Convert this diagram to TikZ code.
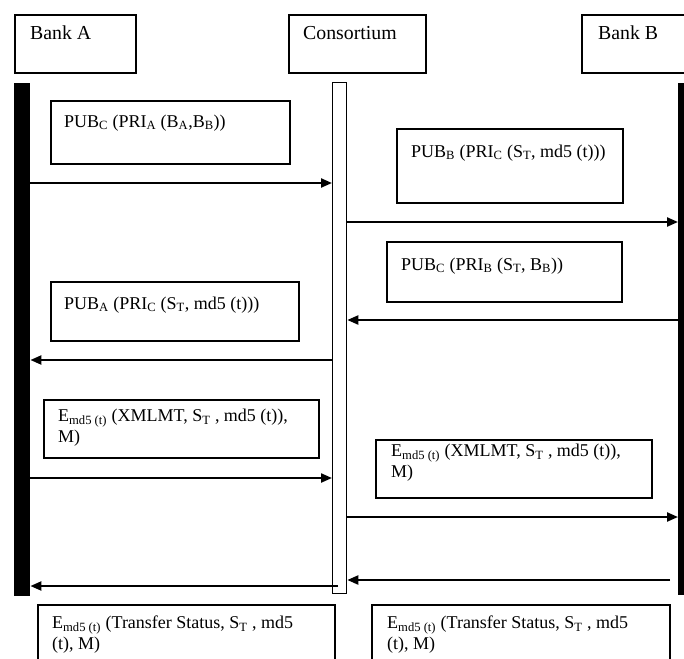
\documentclass[tikz,border=0pt]{standalone}
\usepackage{fontspec}
\setmainfont{Liberation Serif}
\usetikzlibrary{arrows.meta}
\begin{document}
\begin{tikzpicture}[x=1pt,y=-1pt,
  box/.style={draw, line width=1.8pt, rectangle, inner sep=0pt, anchor=north west},
  txt/.style={font=\fontsize{18}{21}\selectfont, inner sep=0pt, anchor=west, align=left},
  head/.style={txt, font=\fontsize{19.8}{22}\selectfont},
  msg/.style={line width=2.2pt, -{Triangle[length=11pt,width=9pt]}}]
\useasboundingbox (0,0) rectangle (684,658);
\clip (0,0) rectangle (684,658);
% headers
\node[box, minimum width=121pt, minimum height=58pt] (hA) at (14,14) {};
\node[box, minimum width=137pt, minimum height=58pt] (hC) at (288,14) {};
\node[box, minimum width=130pt, minimum height=58pt] (hB) at (581,14) {};
\node[head] (tA) at (30,33) {Bank A};
\node[head] (tC) at (303,33) {Consortium};
\node[head] (tB) at (598,33) {Bank B};
% lifelines
\node[fill=black, inner sep=0pt, anchor=north west, minimum width=16pt, minimum height=513pt] (LA) at (14,83) {};
\node[draw, line width=1.3pt, inner sep=0pt, anchor=north west, minimum width=14pt, minimum height=511pt] (LC) at (332,82) {};
\node[fill=black, inner sep=0pt, anchor=north west, minimum width=16pt, minimum height=512pt] (LB) at (678,83) {};
% message boxes
\node[box, minimum width=239pt, minimum height=63pt] (b1) at (50,100) {};
\node[box, minimum width=226pt, minimum height=74pt] (b2) at (396,128) {};
\node[box, minimum width=235pt, minimum height=60pt] (b3) at (386,241) {};
\node[box, minimum width=248pt, minimum height=59pt] (b4) at (50,281) {};
\node[box, minimum width=275pt, minimum height=58pt] (b5) at (43,399) {};
\node[box, minimum width=276pt, minimum height=58pt] (b6) at (375,439) {};
\node[box, minimum width=297pt, minimum height=70pt] (b7) at (37,604) {};
\node[box, minimum width=298pt, minimum height=70pt] (b8) at (371,604) {};
% texts
\node[txt] (t1) at (64,123) {PUB\textsubscript{C} (PRI\textsubscript{A} (B\textsubscript{A},B\textsubscript{B}))};
\node[txt] (t2) at (411,153) {PUB\textsubscript{B} (PRI\textsubscript{C} (S\textsubscript{T}, md5 (t)))};
\node[txt] (t3) at (401,266) {PUB\textsubscript{C} (PRI\textsubscript{B} (S\textsubscript{T}, B\textsubscript{B}))};
\node[txt] (t4) at (64,305) {PUB\textsubscript{A} (PRI\textsubscript{C} (S\textsubscript{T}, md5 (t)))};
\node[txt] (t5) at (58,428) {E\textsubscript{md5 (t)} (XMLMT, S\textsubscript{T} , md5 (t)),\\M)};
\node[txt] (t6) at (391,463) {E\textsubscript{md5 (t)} (XMLMT, S\textsubscript{T} , md5 (t)),\\M)};
\node[txt] (t7) at (52,635) {E\textsubscript{md5 (t)} (Transfer Status, S\textsubscript{T} , md5\\(t), M)};
\node[txt] (t8) at (387,635) {E\textsubscript{md5 (t)} (Transfer Status, S\textsubscript{T} , md5\\(t), M)};
% arrow levels
\coordinate (y1) at (0,183);
\coordinate (y2) at (0,222);
\coordinate (y3) at (0,320);
\coordinate (y4) at (0,360);
\coordinate (y5) at (0,478);
\coordinate (y6) at (0,517);
\coordinate (s7) at (670,580);
\coordinate (s8) at (338,586);
\draw[msg] (LA.east |- y1) -- (LC.west |- y1);
\draw[msg] (LC.east |- y2) -- (LB.west |- y2);
\draw[msg] (LB.west |- y3) -- (LC.east |- y3);
\draw[msg] (LC.west |- y4) -- (LA.east |- y4);
\draw[msg] (LA.east |- y5) -- (LC.west |- y5);
\draw[msg] (LC.east |- y6) -- (LB.west |- y6);
\draw[msg] (s7) -- (LC.east |- s7);
\draw[msg] (s8) -- (LA.east |- s8);
\end{tikzpicture}
\end{document}
